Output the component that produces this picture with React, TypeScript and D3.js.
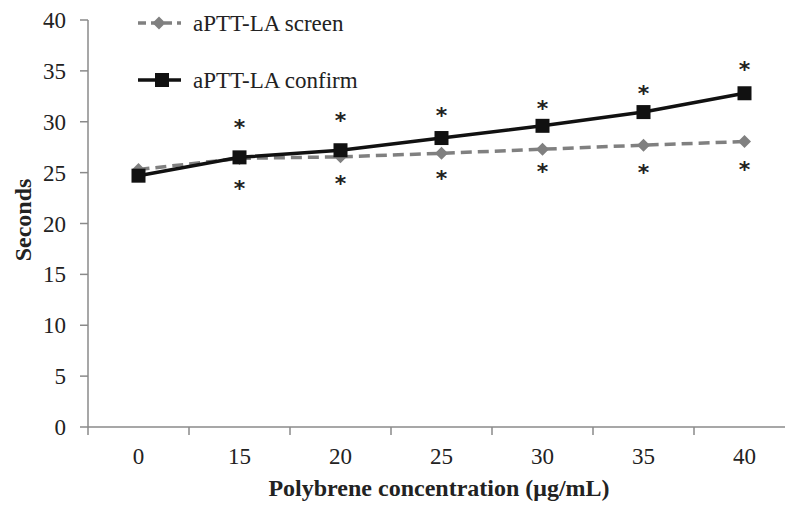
import React from "react";
import * as d3 from "d3";

const categories = ["0", "15", "20", "25", "30", "35", "40"];
const screenValues = [25.3, 26.4, 26.55, 26.9, 27.3, 27.7, 28.05];
const confirmValues = [24.7, 26.5, 27.2, 28.4, 29.6, 30.95, 32.8];
// significance marks (asterisk centre, in seconds); null = no mark
const sigAbove = [null, 29.8, 30.5, 31.0, 31.6, 33.1, 35.5];
const sigBelow = [null, 23.8, 24.3, 24.8, 25.5, 25.4, 25.7];
const yTicks = [0, 5, 10, 15, 20, 25, 30, 35, 40];

const W = 785, H = 507;
const font = "'Liberation Serif', 'Times New Roman', serif";

export default function App() {
  const x = d3.scaleBand<string>().domain(categories).range([88, 795]);
  const y = d3.scaleLinear().domain([0, 40]).range([427, 20]);
  const cx = (c: string) => (x(c) as number) + x.bandwidth() / 2;
  const line = d3.line<number>().x((_, i) => cx(categories[i])).y((d) => y(d));
  const axisColor = "#8a8a8a";
  const diamond = (px: number, py: number, r: number) =>
    `M${px},${py - r}L${px + r},${py}L${px},${py + r}L${px - r},${py}Z`;
  const starFs = 22;
  const star = (key: string, px: number, v: number | null) =>
    v == null ? null : (
      <text key={key} x={px} y={y(v) + starFs * 0.5} textAnchor="middle" fontFamily="'DejaVu Sans', sans-serif" fontSize={starFs} fontWeight="bold" fill="#222">
        *
      </text>
    );

  return (
    <svg width={W} height={H} style={{ position: "absolute", left: 0, top: 0, background: "#fff" }}>
      {/* y axis */}
      <line x1={88} x2={88} y1={y(40)} y2={y(0)} stroke={axisColor} strokeWidth={1.5} />
      {yTicks.map((t) => (
        <g key={t}>
          <line x1={80} x2={88} y1={y(t)} y2={y(t)} stroke={axisColor} strokeWidth={1.5} />
          <text x={66} y={y(t)} dy="0.35em" textAnchor="end" fontFamily={font} fontSize={23} fill="#222">
            {t}
          </text>
        </g>
      ))}
      {/* x axis */}
      <line x1={88} x2={795} y1={y(0)} y2={y(0)} stroke={axisColor} strokeWidth={1.5} />
      {categories.map((c) => (
        <g key={c}>
          <line x1={x(c) as number} x2={x(c) as number} y1={y(0)} y2={y(0) + 8} stroke={axisColor} strokeWidth={1.5} />
          <text x={cx(c)} y={y(0) + 37} textAnchor="middle" fontFamily={font} fontSize={23} fill="#222">
            {c}
          </text>
        </g>
      ))}
      {/* screen series */}
      <path d={line(screenValues) || ""} fill="none" stroke="#808080" strokeWidth={3.5} strokeDasharray="11,6" />
      {screenValues.map((v, i) => (
        <path key={i} d={diamond(cx(categories[i]), y(v), 6.5)} fill="#808080" />
      ))}
      {/* confirm series */}
      <path d={line(confirmValues) || ""} fill="none" stroke="#111" strokeWidth={3.5} />
      {confirmValues.map((v, i) => (
        <rect key={i} x={cx(categories[i]) - 7} y={y(v) - 7} width={14} height={14} fill="#111" />
      ))}
      {/* asterisks */}
      {categories.map((c, i) => star("a" + c, cx(c), sigAbove[i]))}
      {categories.map((c, i) => star("b" + c, cx(c), sigBelow[i]))}
      {/* legend */}
      <line x1={138} x2={181} y1={23} y2={23} stroke="#808080" strokeWidth={3.5} strokeDasharray="8,5" />
      <path d={diamond(159, 23, 6.5)} fill="#808080" />
      <text x={193} y={23} dy="0.35em" fontFamily={font} fontSize={23} fill="#222">aPTT-LA screen</text>
      <line x1={138} x2={181} y1={80} y2={80} stroke="#111" strokeWidth={3.5} />
      <rect x={155} y={73} width={14} height={14} fill="#111" />
      <text x={193} y={80} dy="0.35em" fontFamily={font} fontSize={23} fill="#222">aPTT-LA confirm</text>
      {/* axis titles */}
      <text transform={`translate(31,220) rotate(-90)`} textAnchor="middle" fontFamily={font} fontSize={24} fontWeight="bold" fill="#222">
        Seconds
      </text>
      <text x={439} y={496} textAnchor="middle" fontFamily={font} fontSize={24} fontWeight="bold" fill="#222">
        Polybrene concentration (μg/mL)
      </text>
    </svg>
  );
}
